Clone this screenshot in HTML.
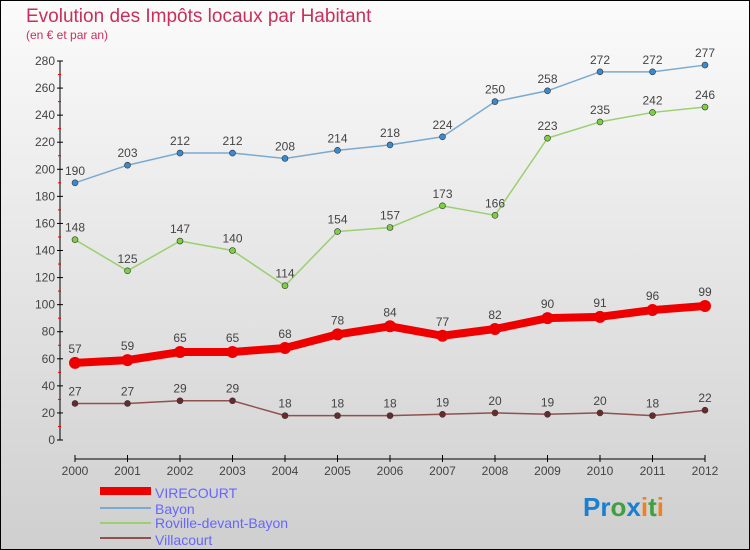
<!DOCTYPE html>
<html><head><meta charset="utf-8"><style>
body{margin:0}
#c{width:750px;height:550px;position:relative;overflow:hidden}
svg text{font-family:"Liberation Sans",sans-serif}
</style></head><body>
<div id="c">
<svg id="s" width="750" height="550" xmlns="http://www.w3.org/2000/svg">
<defs><linearGradient id="bg" x1="0" y1="0" x2="0" y2="1"><stop offset="0" stop-color="#fbfbfb"/><stop offset="1" stop-color="#cfcfcf"/></linearGradient></defs>
<rect x="0.5" y="0.5" width="749" height="549" fill="url(#bg)" stroke="#000"/>
<text x="26" y="22" font-size="19" fill="#c8305a">Evolution des Impôts locaux par Habitant</text>
<text x="26" y="39" font-size="12" fill="#c8305a">(en € et par an)</text>
<g id="axes"></g><g id="series"></g>
<g>
<rect x="100" y="487" width="51" height="8" fill="#e00"/>
<text x="155" y="498" font-size="14" fill="#6666ff">VIRECOURT</text>
<line x1="100" y1="508" x2="151" y2="508" stroke="#7aaad0" stroke-width="2"/>
<text x="155" y="514" font-size="14" fill="#6666ff">Bayon</text>
<line x1="100" y1="523" x2="151" y2="523" stroke="#9ad070" stroke-width="2"/>
<text x="155" y="528" font-size="14" fill="#6666ff">Roville-devant-Bayon</text>
<line x1="100" y1="538" x2="151" y2="538" stroke="#905050" stroke-width="2"/>
<text x="155" y="545" font-size="14" fill="#6666ff">Villacourt</text>
</g>
<text x="583" y="516" font-size="26" font-weight="bold"><tspan fill="#1a7fd0">Pr</tspan><tspan fill="#40a040">o</tspan><tspan fill="#1a7fd0">x</tspan><tspan fill="#f08020">i</tspan><tspan fill="#40a040">t</tspan><tspan fill="#f08020">i</tspan></text>
</svg></div>
<script>
const years=[2000,2001,2002,2003,2004,2005,2006,2007,2008,2009,2010,2011,2012];
const virecourt=[57,59,65,65,68,78,84,77,82,90,91,96,99];
const bayon=[190,203,212,212,208,214,218,224,250,258,272,272,277];
const roville=[148,125,147,140,114,154,157,173,166,223,235,242,246];
const villacourt=[27,27,29,29,18,18,18,19,20,19,20,18,22];
const yTicks=[0,20,40,60,80,100,120,140,160,180,200,220,240,260,280];
const NS="http://www.w3.org/2000/svg";
const X=i=>75+i*52.5, Y=v=>440-v*379/280;
function mk(t,a,p){const e=document.createElementNS(NS,t);for(const k in a)e.setAttribute(k,a[k]);p.appendChild(e);return e;}
const ax=document.getElementById('axes');
let l=mk('line',{x1:60,y1:Y(280),x2:60,y2:440,stroke:'#000'},ax);


yTicks.forEach(v=>{
 mk('line',{x1:57,y1:Y(v),x2:63,y2:Y(v),stroke:'#000'},ax);
 if(v<280)mk('line',{x1:58,y1:Y(v+10),x2:61,y2:Y(v+10),stroke:'#e00'},ax);
 const t=mk('text',{x:55,y:Y(v)+4,'font-size':12,fill:'#444','text-anchor':'end'},ax);t.textContent=v;
 
 
});
l=mk('line',{x1:X(0),y1:459,x2:X(12),y2:459,stroke:'#000'},ax);


years.forEach((y,i)=>{
 mk('line',{x1:X(i),y1:455,x2:X(i),y2:462,stroke:'#000'},ax);
 const t=mk('text',{x:X(i),y:475,'font-size':12,fill:'#444','text-anchor':'middle'},ax);t.textContent=y;
 
 
});
const sg=document.getElementById('series');
function series(d,name,col,w,r,dot,lab){
 const g=mk('g',{},sg);
 
 
 const p=mk('polyline',{points:d.map((v,i)=>X(i)+','+Y(v)).join(' '),fill:'none',stroke:col,'stroke-width':w,'stroke-linejoin':'round'},g);
 
 
 d.forEach((v,i)=>{
  const c=mk('circle',{cx:X(i),cy:Y(v),r:r,fill:dot,stroke:w>3?'none':'#333','stroke-width':0.6},g);
  
  
  const t=mk('text',{x:X(i),y:Y(v)-(w>3?10:8),'font-size':12,fill:'#444','text-anchor':'middle'},g);t.textContent=v;
  
  
 });
}
series(villacourt,'villacourt','#905050',1.5,3,'#6a2a2a');
series(roville,'roville','#9ad070',1.5,3,'#7cd040');
series(bayon,'bayon','#7aaad0',1.5,3,'#3a8ad0');
series(virecourt,'virecourt','#e00',8,6,'#e00');
</script>
</body></html>
